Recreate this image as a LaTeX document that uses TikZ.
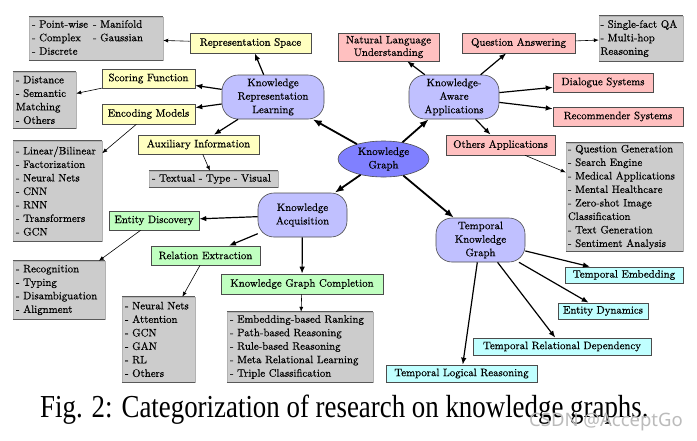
\documentclass[tikz,border=0pt]{standalone}
\usepackage{fontspec}
\newfontfamily\capfont{Liberation Serif}
\newfontfamily\wmfont{Noto Sans}
\newfontfamily\diagfont{Latin Modern Roman}[FakeBold=0.5]
\usetikzlibrary{arrows.meta,shapes.geometric}
\definecolor{cyel}{HTML}{FFFFC0}
\definecolor{cpink}{HTML}{FFC0C0}
\definecolor{cgreen}{HTML}{C0FFC0}
\definecolor{ccyan}{HTML}{C0FFFF}
\definecolor{clav}{HTML}{C0C0FF}
\definecolor{ckg}{HTML}{8080FF}
\definecolor{cgray}{HTML}{CCCCCC}
\definecolor{cwm}{HTML}{BBBBBB}
\tikzset{
  lbl/.style={font=\diagfont\fontsize{10.8}{13.5}\selectfont},
  box/.style={lbl, draw=black!70, line width=0.6pt, align=center, inner sep=1pt},
  ybox/.style={box, fill=cyel},
  pbox/.style={box, fill=cpink},
  gnbox/.style={box, fill=cgreen},
  cbox/.style={box, fill=ccyan},
  mainbox/.style={box, fill=clav, rounded corners=16pt},
  kgnode/.style={box, ellipse, fill=ckg},
  gbox/.style={lbl, fill=cgray, draw=black!30, line width=0.4pt, align=left, inner xsep=3pt, inner ysep=1pt},
  gbar/.style={draw=black!65, line width=0.9pt},
  thickarr/.style={draw=black, line width=1.8pt, -{Latex[length=9pt,width=7pt]}},
  medarr/.style={draw=black, line width=1.2pt, -{Latex[length=7pt,width=5.5pt]}},
  thinarr/.style={draw=black, line width=0.6pt, -{Latex[length=5pt,width=4pt]}}
}
\begin{document}
\begin{tikzpicture}[x=1pt,y=-1pt]
\useasboundingbox (0,0) rectangle (697,440);
\fill[white] (0,0) rectangle (697,440);

% central node
\node[kgnode, minimum width=91pt, minimum height=36pt] (kg) at (383.5,159) {Knowledge\\Graph};

% main nodes
\node[mainbox, minimum width=102pt, minimum height=44pt] (krl) at (273,97) {Knowledge\\Representation\\Learning};
\node[mainbox, minimum width=90pt, minimum height=44pt] (kaa) at (454,97) {Knowledge-\\Aware\\Applications};
\node[mainbox, minimum width=89pt, minimum height=44pt] (ka) at (302.5,215) {Knowledge\\Acquisition};
\node[mainbox, minimum width=89pt, minimum height=44pt] (tkg) at (480.5,240) {Temporal\\Knowledge\\Graph};

% KRL children
\node[ybox, minimum width=121pt, minimum height=20pt] (rs) at (250.5,43) {Representation Space};
\node[ybox, minimum width=93pt, minimum height=19pt] (sf) at (148.5,78.5) {Scoring Function};
\node[ybox, minimum width=93pt, minimum height=20pt] (em) at (148.5,114) {Encoding Models};
\node[ybox, minimum width=121pt, minimum height=19pt] (ai) at (198.5,144.5) {Auxiliary Information};

\node[gbox, text width=128pt, minimum height=43pt] (grs) at (96,38.5) {\begin{tabular}{@{}l@{\hspace{5pt}}l@{}}- Point-wise & - Manifold\\ - Complex & - Gaussian\\ - Discrete & \end{tabular}};
\node[gbox, text width=57pt, minimum height=56pt] (gsf) at (44.5,100) {- Distance\\- Semantic\\Matching\\- Others};
\node[gbox, text width=83pt, minimum height=100pt] (gem) at (57.5,191) {- Linear/Bilinear\\- Factorization\\- Neural Nets\\- CNN\\- RNN\\- Transformers\\- GCN};
\node[gbox, text width=123pt, minimum height=16pt] (gai) at (213.5,179) {- Textual - Type - Visual};

% KAA children
\node[pbox, minimum width=101pt, minimum height=28pt] (nlu) at (388.5,47) {Natural Language\\[-1pt]Understanding};
\node[pbox, minimum width=113pt, minimum height=20pt] (qa) at (518.5,43) {Question Answering};
\node[pbox, minimum width=100pt, minimum height=19pt] (ds) at (603,82.5) {Dialogue Systems};
\node[pbox, minimum width=130pt, minimum height=19pt] (rec) at (618,116.5) {Recommender Systems};
\node[pbox, minimum width=109pt, minimum height=20pt] (oa) at (500.5,145) {Others Applications};

\node[gbox, inner xsep=1.5pt, text width=81pt, minimum height=45pt] (gqa) at (641,38.5) {- Single-fact QA\\- Multi-hop\\Reasoning};
\node[gbox, inner xsep=2pt, text width=113pt, minimum height=108pt] (goa) at (624.5,197) {- Question Generation\\- Search Engine\\- Medical Applications\\- Mental Healthcare\\- Zero-shot Image\\Classification\\- Text Generation\\- Sentiment Analysis};

% KA children
\node[gnbox, minimum width=90pt, minimum height=19pt] (ed) at (154,220.5) {Entity Discovery};
\node[gnbox, minimum width=109pt, minimum height=19pt] (re) at (205.5,255.5) {Relation Extraction};
\node[gnbox, minimum width=162pt, minimum height=20pt] (kgc) at (302,284) {Knowledge Graph Completion};

\node[gbox, text width=86pt, minimum height=58pt] (ged) at (59,290) {- Recognition\\- Typing\\- Disambiguation\\- Alignment};
\node[gbox, text width=67pt, minimum height=85pt] (gre) at (158.5,339.5) {- Neural Nets\\- Attention\\- GCN\\- GAN\\- RL\\- Others};
\node[gbox, text width=140pt, minimum height=70pt] (gkgc) at (300,347) {- Embedding-based Ranking\\- Path-based Reasoning\\- Rule-based Reasoning\\- Meta Relational Learning\\- Triple Classification};

% TKG children
\node[cbox, minimum width=118pt, minimum height=16pt] (te) at (624,275) {Temporal Embedding};
\node[cbox, minimum width=90pt, minimum height=16pt] (edy) at (603,311) {Entity Dynamics};
\node[cbox, minimum width=178pt, minimum height=17pt] (trd) at (562,346.5) {Temporal Relational Dependency};
\node[cbox, minimum width=151pt, minimum height=17pt] (tlr) at (461.5,373.5) {Temporal Logical Reasoning};

% gray box bars
\foreach \n in {grs,gsf,gem,gai,gqa,goa,ged,gre,gkgc}{
  \draw[gbar] (\n.north west) -- (\n.north east);
  \draw[gbar] (\n.south west) -- (\n.south east);
}

% arrows from KG
\draw[thickarr] (kg) -- (krl);
\draw[thickarr] (kg) -- (kaa);
\draw[thickarr] (kg) -- (ka);
\draw[thickarr] (kg) -- (tkg);

% KRL arrows
\draw[medarr] (krl) -- (rs);
\draw[medarr] (krl) -- (sf);
\draw[medarr] (krl) -- (em);
\draw[medarr] (krl) -- (ai);
\draw[thinarr] (rs) -- (grs);
\draw[thinarr] (sf) -- (gsf);
\draw[thinarr] (em) -- (gem);
\draw[thinarr] (ai) -- (gai);

% KAA arrows
\draw[medarr] (kaa) -- (nlu);
\draw[medarr] (kaa) -- (qa);
\draw[medarr] (kaa) -- (ds);
\draw[medarr] (kaa) -- (rec);
\draw[medarr] (kaa) -- (oa);
\draw[thinarr] (qa) -- (gqa);
\draw[thinarr] (oa) -- (goa);

% KA arrows
\draw[medarr] (ka) -- (ed);
\draw[medarr] (ka) -- (re);
\draw[medarr] (ka) -- (kgc);
\draw[thinarr] (ed) -- (ged);
\draw[thinarr] (re) -- (gre);
\draw[thinarr] (kgc) -- (gkgc);

% TKG arrows
\draw[medarr] (tkg) -- (te);
\draw[medarr] (tkg) -- (edy);
\draw[medarr] (tkg) -- (trd);
\draw[medarr] (tkg) -- (tlr);

% caption and watermark
\node[font=\capfont\fontsize{32}{36}\selectfont, anchor=base west, inner sep=0pt] (cap) at (40,417) {\scalebox{0.84}[1]{Fig. 2: Categorization of research on knowledge graphs.}};
\node[font=\wmfont\fontsize{18.5}{22}\selectfont, text=cwm, anchor=base east, inner sep=0pt] (wm) at (683,426) {CSDN @AcceptGo};
\end{tikzpicture}
\end{document}
